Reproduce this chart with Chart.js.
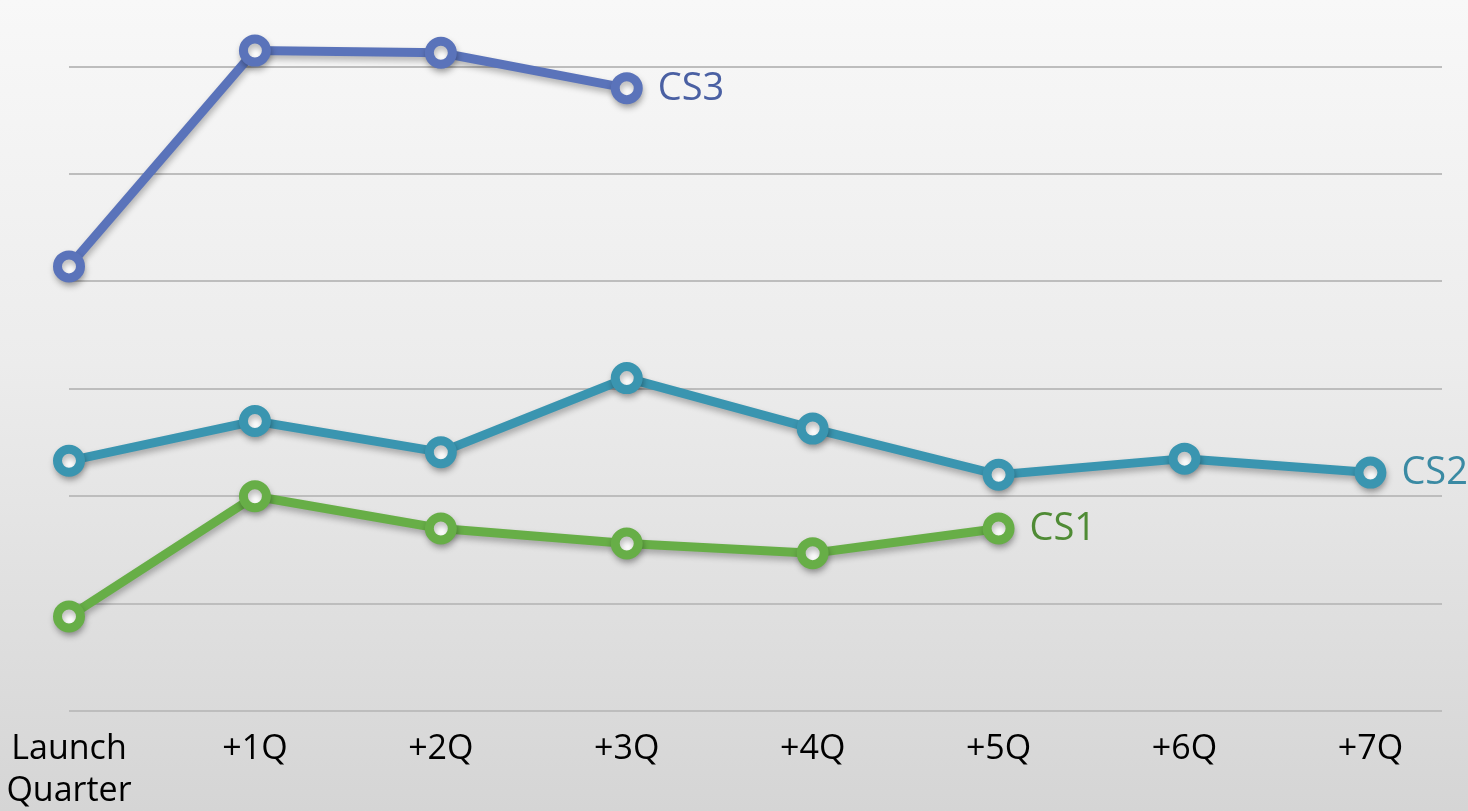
<!DOCTYPE html>
<html>
<head>
<meta charset="utf-8">
<script src="https://cdn.jsdelivr.net/npm/chart.js@4.4.0/dist/chart.umd.min.js"></script>
<style>
html,body{margin:0;padding:0;overflow:hidden;}
body{width:1468px;height:811px;background:linear-gradient(to bottom,#f8f8f8 0%,#ececec 45%,#d5d5d5 100%);}
#wrap{position:absolute;left:0;top:0;width:1468px;height:811px;overflow:hidden;}
</style>
</head>
<body>
<div id="wrap"><canvas id="c" width="1468" height="811"></canvas></div>
<script>
const categories = [['Launch','Quarter'], '+1Q', '+2Q', '+3Q', '+4Q', '+5Q', '+6Q', '+7Q'];
const seriesNames = ['CS3', 'CS2', 'CS1'];
const cs3 = [4.14, 6.15, 6.13, 5.80];
const cs2 = [2.33, 2.70, 2.41, 3.10, 2.63, 2.20, 2.35, 2.22];
const cs1 = [0.88, 2.00, 1.70, 1.56, 1.47, 1.70];
const yTicks = [0, 1, 2, 3, 4, 5, 6];

const lineColors = ['#5a73ba', '#3a95b0', '#67ae47'];
const textColors = ['#4a60a3', '#3a8aa3', '#4f8b35'];

function toXY(arr){ return arr.map((v,i)=>({x:i,y:v})); }

const shadowPlugin = {
  id:'shadow',
  beforeDatasetsDraw(chart){
    const ctx = chart.ctx;
    ctx.save();
    ctx.shadowColor = 'rgba(0,0,0,0.28)';
    ctx.shadowBlur = 6;
    ctx.shadowOffsetX = 1;
    ctx.shadowOffsetY = 4;
  },
  afterDatasetsDraw(chart){
    chart.ctx.restore();
  }
};

const endLabels = {
  id:'endLabels',
  afterDatasetsDraw(chart){
    const ctx = chart.ctx;
    ctx.save();
    ctx.font = '38px "Open Sans"';
    ctx.textBaseline = 'middle';
    ctx.textAlign = 'left';
    chart.data.datasets.forEach((ds, i) => {
      const meta = chart.getDatasetMeta(i);
      const last = meta.data[meta.data.length - 1];
      ctx.fillStyle = textColors[i];
      ctx.fillText(seriesNames[i], last.x + 31, last.y + 1);
    });
    ctx.restore();
  }
};

const mkDs = (data, i) => ({
  label: seriesNames[i],
  data: toXY(data),
  borderColor: lineColors[i],
  borderWidth: 9,
  pointRadius: 11.5,
  pointBorderWidth: 9,
  pointBackgroundColor: '#ffffff',
  pointBorderColor: lineColors[i],
  tension: 0,
  fill: false,
  clip: false
});

new Chart(document.getElementById('c'), {
  type: 'line',
  data: { datasets: [mkDs(cs3,0), mkDs(cs2,1), mkDs(cs1,2)] },
  options: {
    responsive: false,
    animation: false,
    devicePixelRatio: 1,
    layout: { padding: { left: 69, right: 26, top: 0, bottom: 0 } },
    plugins: { legend: { display: false }, tooltip: { enabled: false } },
    scales: {
      x: {
        type: 'linear',
        min: 0,
        max: 7.385,
        afterBuildTicks(scale){ scale.ticks = categories.map((c,i)=>({value:i})); },
        afterFit(scale){ scale.paddingLeft = 0; scale.paddingRight = 0; scale.height = 100; },
        grid: { display: false, drawTicks: false },
        border: { display: false },
        ticks: {
          autoSkip: false,
          maxRotation: 0,
          padding: 18,
          color: '#000',
          font: { family: '"Open Sans"', size: 34, lineHeight: 1.22 },
          callback: (v) => categories[v]
        }
      },
      y: {
        min: 0,
        max: 6.43,
        afterBuildTicks(scale){ scale.ticks = yTicks.map(v=>({value:v})); },
        afterFit(scale){ scale.width = 0; },
        grid: { color: '#bdbdbd', lineWidth: 2, drawTicks: false },
        border: { display: false },
        ticks: { display: false, padding: 0 }
      }
    }
  },
  plugins: [shadowPlugin, endLabels]
});
</script>
</body>
</html>
